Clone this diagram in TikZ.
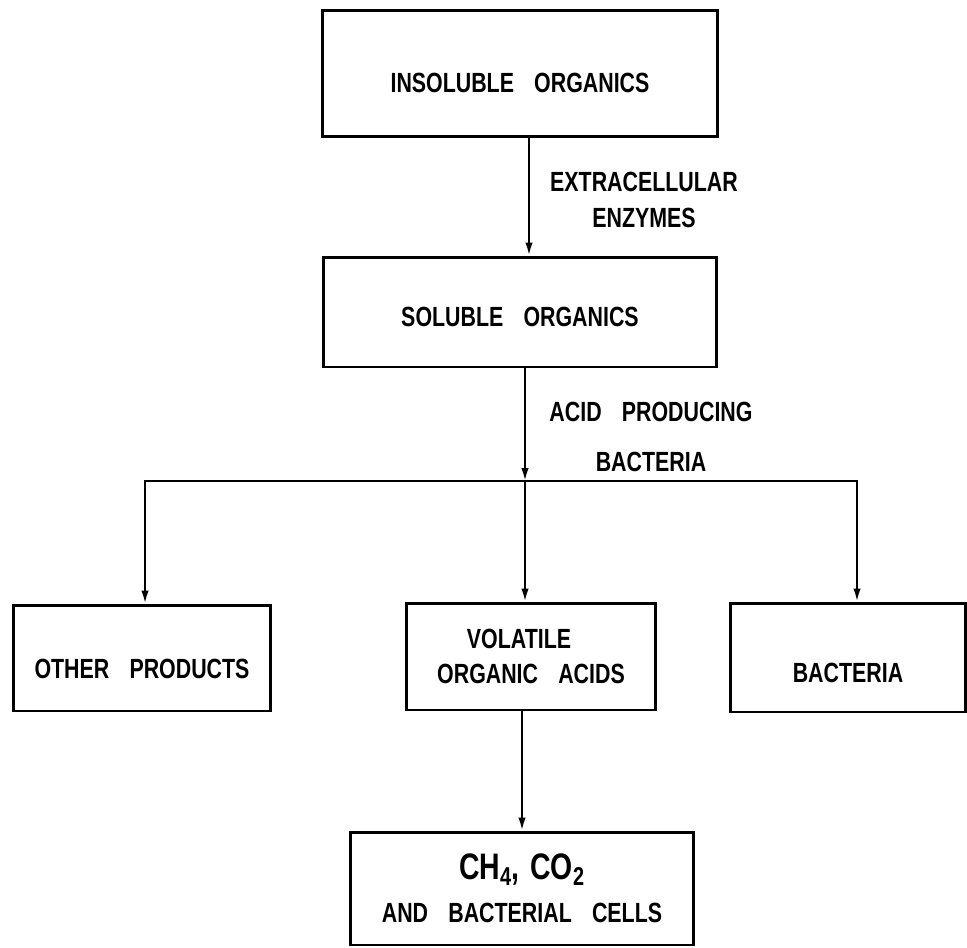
\documentclass[tikz,border=0pt]{standalone}
\usepackage{fontspec}
\newfontfamily\lettering[FakeStretch=0.77,WordSpace=3.4]{Liberation Sans Bold}
\usetikzlibrary{arrows.meta}

\begin{document}
\begin{tikzpicture}[x=0.02cm, y=-0.02cm,
        every node/.style={font=\lettering\fontsize{15.8}{20.4}\selectfont},
        box/.style={draw, line width=1.7pt, inner sep=0pt},
        sunk/.style={text height=#1, text depth=0pt},
        note/.style={align=center, inner sep=0pt},
        flow/.style={line width=1.2pt, -{Latex[length=0.26cm, width=0.15cm]}}]
        \useasboundingbox (0, 0) rectangle (967, 947);

        \node[box, sunk=22pt, minimum width=7.92cm, minimum height=2.54cm] (ins) at (520, 73.5) {INSOLUBLE ORGANICS};
        \node[box, sunk=17pt, minimum width=7.88cm, minimum height=2.2cm] (sol) at (520, 312) {SOLUBLE ORGANICS};

        \node[note] (enz) at (644, 200) {EXTRACELLULAR\\ENZYMES};
        \node[note] (acid) at (651, 437) {ACID PRODUCING\\[8pt]BACTERIA};

        %%%

        \node[box, sunk=23pt, minimum width=5.16cm, minimum height=2.12cm] (other) at (142, 658) {OTHER PRODUCTS};
        \node[box, align=center, minimum width=4.98cm, minimum height=2.14cm] (vol) at (531, 656.5) {VOLATILE\hspace*{0.48cm}\\ORGANIC ACIDS};
        \node[box, sunk=28pt, minimum width=4.72cm, minimum height=2.18cm] (bact) at (848, 657.5) {BACTERIA};

        \node[box, align=center, minimum width=6.86cm, minimum height=2.26cm] (gas) at (522, 888.5)
            {{\fontsize{21}{24}\selectfont CH\textsubscript{4},\kern6pt CO\textsubscript{2}}\\[4pt]AND BACTERIAL CELLS};

        \coordinate (split) at (525, 481);

        \draw[flow] ([xshift=0.18cm]ins.south) -- ([xshift=0.18cm]sol.north);
        \draw[flow] (sol.south -| split) -- (split);
        \draw[flow] (split) -- (split |- vol.north);
        \draw[flow] (split) -| ([xshift=0.06cm]other.north);
        \draw[flow] (split) -| ([xshift=0.18cm]bact.north);
        \draw[flow] (vol.south -| gas.north) -- (gas.north);
    \end{tikzpicture}
\end{document}
